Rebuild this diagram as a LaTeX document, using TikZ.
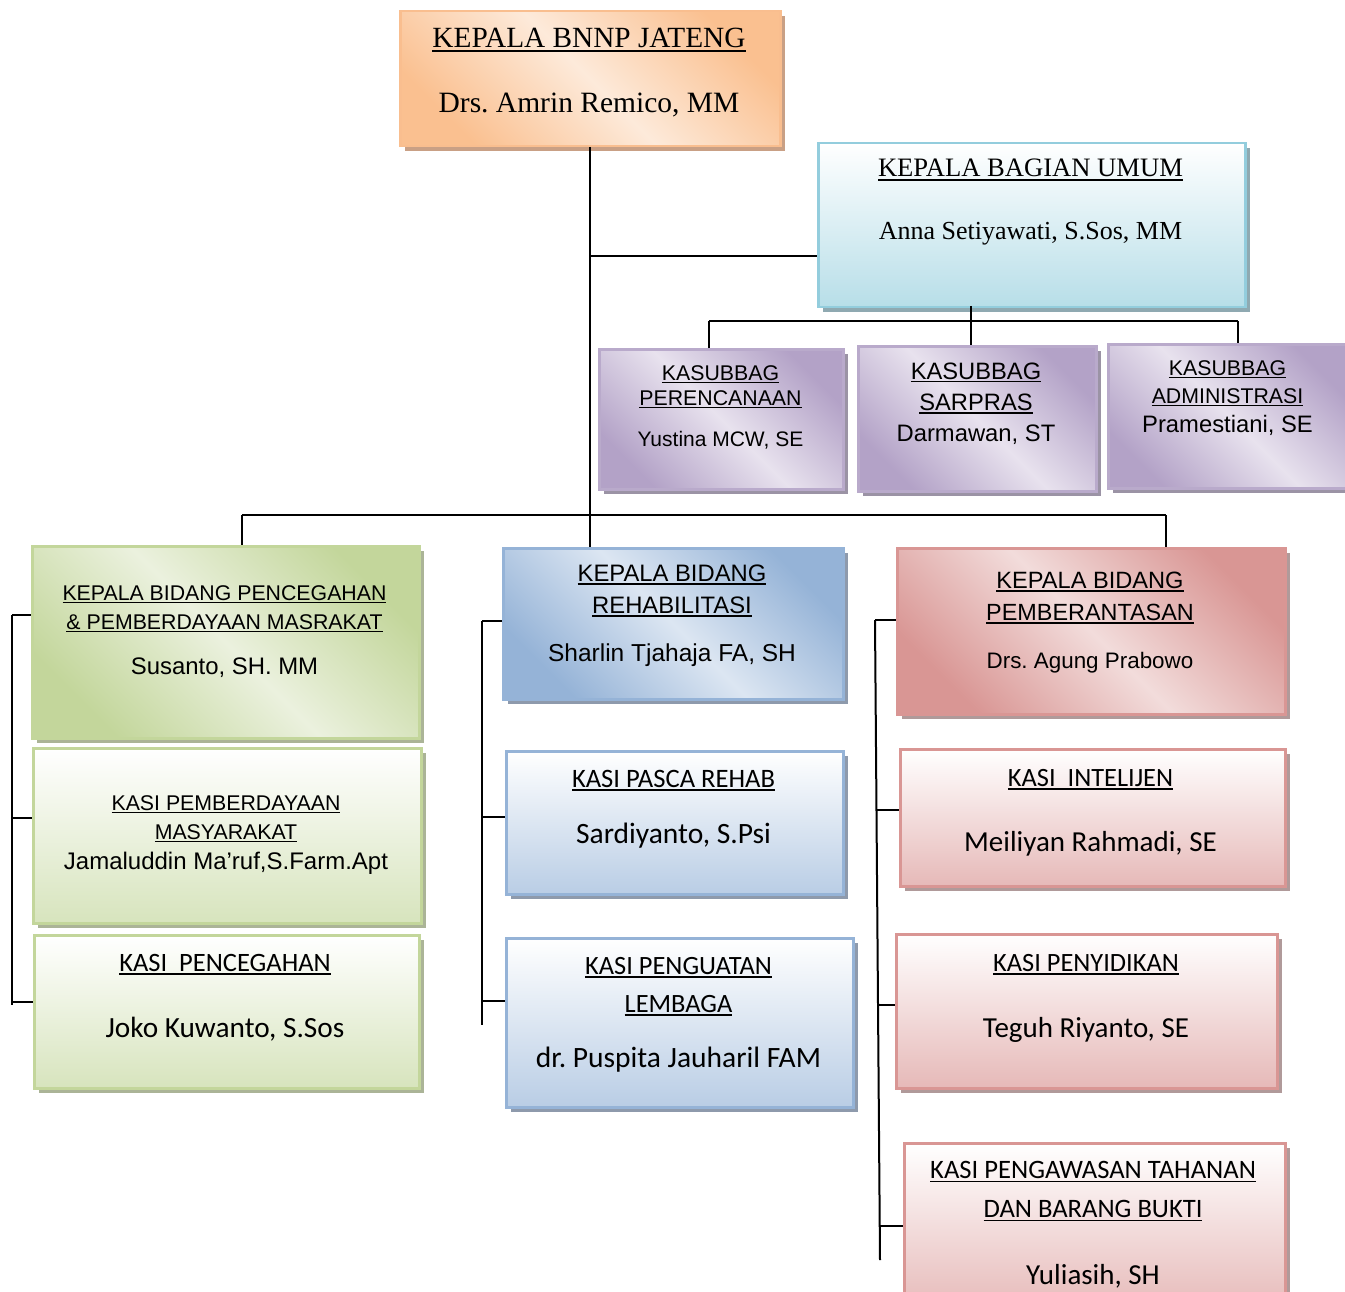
\documentclass[tikz,border=0pt]{standalone}
\usepackage{fontspec}
\setmainfont{Liberation Sans}
\newfontfamily\tnr{Liberation Serif}
\newfontfamily\ari{Liberation Sans}
\newfontfamily\calb{Carlito}
\usetikzlibrary{shadows}
\frenchspacing
\newcommand{\fsz}[1]{\fontsize{#1}{#1}\selectfont}
\newcommand{\undl}[1]{\setbox0\hbox{#1}\rlap{\rule[-0.14em]{\wd0}{0.065em}}\box0}
\definecolor{orD}{HTML}{FAC090}\definecolor{orL}{HTML}{FDEADA}\definecolor{orB}{HTML}{F9BE8F}\definecolor{orS}{HTML}{C9A085}
\definecolor{cyB}{HTML}{93CDDD}\definecolor{cyD}{HTML}{B7DEE8}\definecolor{cyS}{HTML}{8FA9B1}
\definecolor{puD}{HTML}{B3A2C7}\definecolor{puL}{HTML}{E8E2EE}\definecolor{puB}{HTML}{B9AACB}\definecolor{puS}{HTML}{9B93A5}
\definecolor{grD}{HTML}{C3D69B}\definecolor{grL}{HTML}{EBF1DE}\definecolor{grB}{HTML}{C3D69B}\definecolor{grS}{HTML}{ABB497}\definecolor{grK}{HTML}{D7E4BD}
\definecolor{blD}{HTML}{95B3D7}\definecolor{blL}{HTML}{DCE6F2}\definecolor{blB}{HTML}{95B3D7}\definecolor{blS}{HTML}{8E9AAC}\definecolor{blK}{HTML}{B9CDE5}
\definecolor{rdD}{HTML}{D99694}\definecolor{rdL}{HTML}{F2DCDB}\definecolor{rdB}{HTML}{D99694}\definecolor{rdS}{HTML}{B09A9A}\definecolor{rdK}{HTML}{E6B9B8}
\tikzset{
  box/.style={draw, line width=2.5pt, anchor=north west, inner sep=0pt},
  shd/.style={drop shadow={shadow xshift=5pt, shadow yshift=-5pt, fill=#1, opacity=1}},
  diag/.style n args={3}{box, draw=#1, top color=#2, bottom color=#2, middle color=#3, shading angle=-45},
  orbox/.style={diag={orB}{orD}{orL}, shd=orS},
  pubox/.style={diag={puB}{puD}{puL}, shd=puS},
  grbox/.style={diag={grB}{grD}{grL}, shd=grS},
  blbox/.style={diag={blB}{blD}{blL}, shd=blS},
  rdbox/.style={diag={rdB}{rdD}{rdL}, shd=rdS},
  cybox/.style={box, draw=cyB, top color=white, bottom color=cyD, shd=cyS},
  grkasi/.style={box, draw=grB, top color=white, bottom color=grK, shd=grS},
  blkasi/.style={box, draw=blB, top color=white, bottom color=blK, shd=blS},
  rdkasi/.style={box, draw=rdB, top color=white, bottom color=rdK, shd=rdS},
  txt/.style={anchor=base, inner sep=0pt, text=black},
  conn/.style={draw=black, line width=2pt},
}
\begin{document}
\begin{tikzpicture}[x=1pt,y=-1pt]
\useasboundingbox (0,0) rectangle (1345,1292);
\clip (0,0) rectangle (1345,1292);
% connectors coordinates
\coordinate (jBU) at (589,256);
\coordinate (buD) at (971,306);
\coordinate (sbL) at (709,321);
\coordinate (sbR) at (1238,321);
\coordinate (bL) at (242,515);
\coordinate (bR) at (1166,515);
\coordinate (gT) at (12,615);
\coordinate (g2) at (12,818);
\coordinate (g3) at (12,1002);
\coordinate (gB) at (12,1005);
\coordinate (bT) at (482,621);
\coordinate (b2) at (482,817);
\coordinate (b3) at (482,1001);
\coordinate (bB) at (482,1025);
\coordinate (rT) at (875,620);
\coordinate (r2) at (877,810);
\coordinate (r3) at (878,1005);
\coordinate (r4) at (879,1226);
\coordinate (rB) at (880,1260);

% boxes
\node[orbox, minimum width=380pt, minimum height=135pt] (top) at (399,10) {};
\node[cybox, minimum width=427pt, minimum height=164pt] (bu) at (817,142) {};
\node[pubox, minimum width=244pt, minimum height=140pt] (sb1) at (598,348) {};
\node[pubox, minimum width=238pt, minimum height=145pt] (sb2) at (857,345) {};
\node[pubox, minimum width=242pt, minimum height=144pt] (sb3) at (1107,343) {};
\node[grbox, minimum width=387pt, minimum height=192pt] (gh) at (31,545) {};
\node[grkasi, minimum width=388pt, minimum height=175pt] (gk1) at (32,747) {};
\node[grkasi, minimum width=385pt, minimum height=153pt] (gk2) at (33,934) {};
\node[blbox, minimum width=340pt, minimum height=151pt] (bh) at (502,547) {};
\node[blkasi, minimum width=337pt, minimum height=143pt] (bk1) at (505,750) {};
\node[blkasi, minimum width=347pt, minimum height=169pt] (bk2) at (505,937) {};
\node[rdbox, minimum width=388pt, minimum height=166pt] (rh) at (896,547) {};
\node[rdkasi, minimum width=385pt, minimum height=137pt] (rk1) at (899,748) {};
\node[rdkasi, minimum width=381pt, minimum height=154pt] (rk2) at (895,933) {};
\node[rdkasi, minimum width=381pt, minimum height=170pt] (rk3) at (903,1142) {};

% connectors
\draw[conn] (top.south) -- (top.south |- bh.north);
\draw[conn] (jBU) -- (jBU -| bu.west);
\draw[conn] (buD) -- (buD |- sbL);
\draw[conn] (sbL) -- (sbR);
\draw[conn] (sbL) -- (sbL |- sb1.north);
\draw[conn] (buD |- sbL) -- (buD |- sb2.north);
\draw[conn] (sbR) -- (sbR |- sb3.north);
\draw[conn] (bL) -- (bR);
\draw[conn] (bL) -- (bL |- gh.north);
\draw[conn] (bR) -- (bR |- rh.north);
\draw[conn] (gT) -- (gB);
\draw[conn] (gT) -- (gT -| gh.west);
\draw[conn] (g2) -- (g2 -| gk1.west);
\draw[conn] (g3) -- (g3 -| gk2.west);
\draw[conn] (bT) -- (bB);
\draw[conn] (bT) -- (bT -| bh.west);
\draw[conn] (b2) -- (b2 -| bk1.west);
\draw[conn] (b3) -- (b3 -| bk2.west);
\draw[conn] (rT) -- (rB);
\draw[conn] (rT) -- (rT -| rh.west);
\draw[conn] (r2) -- (r2 -| rk1.west);
\draw[conn] (r3) -- (r3 -| rk2.west);
\draw[conn] (r4) -- (r4 -| rk3.west);

% texts
\node[txt] (top-t1) at (589,48) {\tnr\fsz{29.3}\undl{KEPALA BNNP JATENG}};
\node[txt] (top-t2) at (589,113) {\tnr\fsz{29.5}Drs. Amrin Remico, MM};
\node[txt] (bu-t1) at (1030.5,177) {\tnr\fsz{26.6}\undl{KEPALA BAGIAN UMUM}};
\node[txt] (bu-t2) at (1030.5,240) {\tnr\fsz{26}Anna Setiyawati, S.Sos, MM};

\node[txt] (sb1-t1) at (720.5,380) {\ari\fsz{21.3}\undl{KASUBBAG}};
\node[txt] (sb1-t2) at (720.5,405) {\ari\fsz{21.3}\undl{PERENCANAAN}};
\node[txt] (sb1-t3) at (720.5,446) {\ari\fsz{21}Yustina MCW, SE};
\node[txt] (sb2-t1) at (976,379) {\ari\fsz{23.7}\undl{KASUBBAG}};
\node[txt] (sb2-t2) at (976,410.5) {\ari\fsz{23.7}\undl{SARPRAS}};
\node[txt] (sb2-t3) at (976,441.5) {\ari\fsz{23.8}Darmawan, ST};
\node[txt] (sb3-t1) at (1227.5,375) {\ari\fsz{21.3}\undl{KASUBBAG}};
\node[txt] (sb3-t2) at (1227.5,403) {\ari\fsz{21.3}\undl{ADMINISTRASI}};
\node[txt] (sb3-t3) at (1227.5,432.5) {\ari\fsz{23.8}Pramestiani, SE};

\node[txt] (gh-t1) at (224.5,600) {\ari\fsz{21.3}\undl{KEPALA BIDANG PENCEGAHAN}};
\node[txt] (gh-t2) at (224.5,629) {\ari\fsz{21.3}\undl{\& PEMBERDAYAAN MASRAKAT}};
\node[txt] (gh-t3) at (224.5,674.5) {\ari\fsz{23.9}Susanto, SH. MM};
\node[txt] (gk1-t1) at (226,810.5) {\ari\fsz{21.3}\undl{KASI PEMBERDAYAAN}};
\node[txt] (gk1-t2) at (226,839.5) {\ari\fsz{21.3}\undl{MASYARAKAT}};
\node[txt] (gk1-t3) at (226,869) {\ari\fsz{24}Jamaluddin Ma’ruf,S.Farm.Apt};
\node[txt] (gk2-t1) at (225,971.5) {\calb\fsz{26.5}\undl{KASI\ \ PENCEGAHAN}};
\node[txt] (gk2-t2) at (225,1037.5) {\calb\fsz{29.3}Joko Kuwanto, S.Sos};

\node[txt] (bh-t1) at (672,581.5) {\ari\fsz{23.8}\undl{KEPALA BIDANG}};
\node[txt] (bh-t2) at (672,613.5) {\ari\fsz{23.8}\undl{REHABILITASI}};
\node[txt] (bh-t3) at (672,661.5) {\ari\fsz{24.5}Sharlin Tjahaja FA, SH};
\node[txt] (bk1-t1) at (673.5,787.5) {\calb\fsz{26.6}\undl{KASI PASCA REHAB}};
\node[txt] (bk1-t2) at (673.5,843.5) {\calb\fsz{29.5}Sardiyanto, S.Psi};
\node[txt] (bk2-t1) at (678.5,974.5) {\calb\fsz{26.4}\undl{KASI PENGUATAN}};
\node[txt] (bk2-t2) at (678.5,1012.5) {\calb\fsz{26.4}\undl{LEMBAGA}};
\node[txt] (bk2-t3) at (678.5,1067.5) {\calb\fsz{29.5}dr. Puspita Jauharil FAM};

\node[txt] (rh-t1) at (1090,588.5) {\ari\fsz{23.6}\undl{KEPALA BIDANG}};
\node[txt] (rh-t2) at (1090,620.5) {\ari\fsz{23.4}\undl{PEMBERANTASAN}};
\node[txt] (rh-t3) at (1090,668) {\ari\fsz{22.4}Drs. Agung Prabowo};
\node[txt] (rk1-t1) at (1090.5,786.5) {\calb\fsz{26.4}\undl{KASI\ \ INTELIJEN}};
\node[txt] (rk1-t2) at (1090.5,851.5) {\calb\fsz{29}Meiliyan Rahmadi, SE};
\node[txt] (rk2-t1) at (1086,971.5) {\calb\fsz{26.4}\undl{KASI PENYIDIKAN}};
\node[txt] (rk2-t2) at (1086,1037.5) {\calb\fsz{29}Teguh Riyanto, SE};
\node[txt] (rk3-t1) at (1093,1178.5) {\calb\fsz{26.6}\undl{KASI PENGAWASAN TAHANAN}};
\node[txt] (rk3-t2) at (1093,1217.5) {\calb\fsz{26.6}\undl{DAN BARANG BUKTI}};
\node[txt] (rk3-t3) at (1093,1284) {\calb\fsz{29}Yuliasih, SH};
\end{tikzpicture}
\end{document}
